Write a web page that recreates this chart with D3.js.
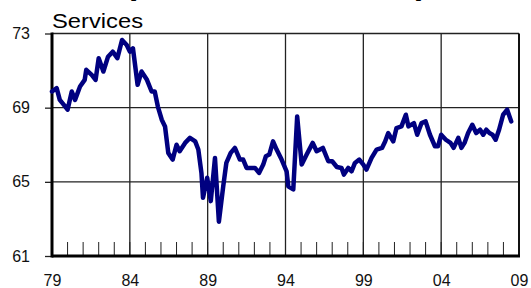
<!DOCTYPE html>
<html lang="en">
<head>
<meta charset="UTF-8">
<title>Services</title>
<script src="https://d3js.org/d3.v7.min.js"></script>
<style>
  body { margin: 0; background: #fff; }
  svg { display: block; font-family: Arial, "Liberation Sans", sans-serif; }
</style>
</head>
<body>
<div id="chart"></div>
<script>
// values (decimal year, share)
const years = [
  1979.0, 1979.3, 1979.5, 1979.75, 1980.0, 1980.27, 1980.48, 1980.8, 1981.1, 1981.2,
  1981.55, 1981.8, 1982.0, 1982.3, 1982.6, 1982.9, 1983.2, 1983.5, 1983.8, 1984.0,
  1984.2, 1984.5, 1984.75, 1985.1, 1985.4, 1985.6, 1985.8, 1986.05, 1986.26, 1986.47,
  1986.75, 1987.0, 1987.2, 1987.55, 1987.86, 1988.2, 1988.4, 1988.6, 1988.7, 1988.97,
  1989.2, 1989.47, 1989.72, 1990.0, 1990.2, 1990.48, 1990.75, 1991.07, 1991.28, 1991.5,
  1991.8, 1992.04, 1992.3, 1992.57, 1992.74, 1992.96, 1993.2, 1993.43, 1993.75, 1994.07,
  1994.18, 1994.5, 1994.75, 1995.04, 1995.36, 1995.75, 1996.0, 1996.4, 1996.75, 1997.0,
  1997.3, 1997.6, 1997.75, 1998.03, 1998.25, 1998.46, 1998.74, 1999.0, 1999.2, 1999.53,
  1999.85, 2000.2, 2000.4, 2000.6, 2000.92, 2001.13, 2001.45, 2001.73, 2001.9, 2002.25,
  2002.46, 2002.74, 2003.0, 2003.28, 2003.6, 2003.8, 2004.0, 2004.3, 2004.6, 2004.8,
  2005.1, 2005.3, 2005.5, 2005.73, 2006.0, 2006.25, 2006.5, 2006.7, 2006.9, 2007.1,
  2007.3, 2007.5, 2007.72, 2007.98, 2008.24, 2008.5
];
const services = [
  69.87, 70.05, 69.42, 69.16, 68.89, 69.87, 69.42, 70.14, 70.5, 71.04,
  70.77, 70.5, 71.67, 70.95, 71.75, 72.02, 71.67, 72.65, 72.38, 72.02,
  72.2, 70.23, 70.95, 70.5, 69.87, 69.87, 69.06, 68.35, 67.99, 66.56,
  66.2, 67.0, 66.65, 67.1, 67.37, 67.18, 66.74, 65.48, 64.14, 65.22,
  63.96, 66.29, 62.85, 64.76, 66.02, 66.56, 66.83, 66.2, 66.2, 65.75,
  65.75, 65.75, 65.48, 65.93, 66.38, 66.47, 67.18, 66.74, 66.2, 65.57,
  64.76, 64.59, 68.53, 65.93, 66.47, 67.1, 66.65, 66.83, 66.11, 66.11,
  65.8, 65.75, 65.39, 65.75, 65.57, 66.02, 66.2, 65.93, 65.66, 66.29,
  66.74, 66.83, 67.18, 67.63, 67.18, 67.9, 67.99, 68.62, 67.99, 68.17,
  67.54, 68.17, 68.26, 67.54, 66.92, 66.92, 67.54, 67.27, 67.1, 66.83,
  67.37, 66.83, 67.1, 67.63, 68.08, 67.63, 67.81, 67.54, 67.81, 67.63,
  67.54, 67.27, 67.81, 68.62, 68.89, 68.26
];
const yTicks = [61, 65, 69, 73];
const xTickYears = [1979, 1984, 1989, 1994, 1999, 2004, 2009];
const xTickLabels = ["79", "84", "89", "94", "99", "04", "09"];

const width = 531, height = 288;
const plotLeft = 52, plotRight = 519, plotTop = 33.5, plotBottom = 256;

const svg = d3.select("#chart").append("svg")
  .attr("width", width)
  .attr("height", height);

const x = d3.scaleLinear().domain([1979, 2009]).range([plotLeft, plotRight]);
const y = d3.scaleLinear().domain([61, 73]).range([plotBottom, plotTop]);

// title, mostly cut off at the top edge
svg.append("text")
  .attr("x", 276)
  .attr("y", -6)
  .attr("text-anchor", "middle")
  .attr("font-size", 32)
  .attr("font-weight", "bold")
  .attr("textLength", 302)
  .attr("lengthAdjust", "spacingAndGlyphs")
  .text("(Index, 1982 = 100)");

svg.append("text")
  .attr("x", plotLeft)
  .attr("y", 28)
  .attr("font-size", 21)
  .attr("textLength", 91)
  .attr("lengthAdjust", "spacingAndGlyphs")
  .text("Services");

// grid
svg.append("g")
  .selectAll("line")
  .data(yTicks.filter(d => d > 61 && d < 73))
  .join("line")
  .attr("x1", plotLeft).attr("x2", plotRight)
  .attr("y1", d => y(d)).attr("y2", d => y(d))
  .attr("stroke", "#222").attr("stroke-width", 1.3);

svg.append("g")
  .selectAll("line")
  .data(xTickYears.slice(1, -1))
  .join("line")
  .attr("x1", d => x(d)).attr("x2", d => x(d))
  .attr("y1", plotTop).attr("y2", plotBottom)
  .attr("stroke", "#222").attr("stroke-width", 1.3);

// frame top/right
svg.append("line")
  .attr("x1", plotLeft).attr("x2", plotRight)
  .attr("y1", plotTop).attr("y2", plotTop)
  .attr("stroke", "#222").attr("stroke-width", 1.5);
svg.append("line")
  .attr("x1", plotRight).attr("x2", plotRight)
  .attr("y1", plotTop).attr("y2", plotBottom)
  .attr("stroke", "#111").attr("stroke-width", 2);

// yearly minor ticks
svg.append("g")
  .selectAll("line")
  .data(d3.range(1980, 2009))
  .join("line")
  .attr("x1", d => x(d)).attr("x2", d => x(d))
  .attr("y1", plotBottom - 14).attr("y2", plotBottom)
  .attr("stroke", "#222").attr("stroke-width", 1);

// y axis
const yAxis = svg.append("g")
  .attr("transform", `translate(${plotLeft},0)`)
  .call(d3.axisLeft(y).tickValues(yTicks).tickSize(7).tickPadding(15).tickFormat(d3.format("d")));
yAxis.select(".domain").remove();
yAxis.selectAll(".tick line").attr("stroke", "#222").attr("stroke-width", 1.3);
yAxis.selectAll("text").attr("font-size", 16).attr("fill", "#111").attr("font-family", "Arial, sans-serif");

// x axis labels
const xAxis = svg.append("g")
  .attr("transform", `translate(0,${plotBottom})`)
  .call(d3.axisBottom(x).tickValues(xTickYears).tickSize(0).tickPadding(19)
    .tickFormat((d, i) => xTickLabels[i]));
xAxis.select(".domain").remove();
xAxis.selectAll("text").attr("font-size", 16).attr("fill", "#111").attr("font-family", "Arial, sans-serif");

// heavy left and bottom axis lines
svg.append("line")
  .attr("x1", plotLeft).attr("x2", plotLeft)
  .attr("y1", plotTop - 1).attr("y2", plotBottom + 1.5)
  .attr("stroke", "#000").attr("stroke-width", 3);
svg.append("line")
  .attr("x1", plotLeft).attr("x2", plotRight + 1)
  .attr("y1", plotBottom).attr("y2", plotBottom)
  .attr("stroke", "#000").attr("stroke-width", 3);

// series line
const line = d3.line()
  .x((d, i) => x(years[i]))
  .y(d => y(d));

svg.append("path")
  .datum(services)
  .attr("d", line)
  .attr("fill", "none")
  .attr("stroke", "#000080")
  .attr("stroke-width", 4.5)
  .attr("stroke-linejoin", "round")
  .attr("stroke-linecap", "round");
</script>
</body>
</html>
